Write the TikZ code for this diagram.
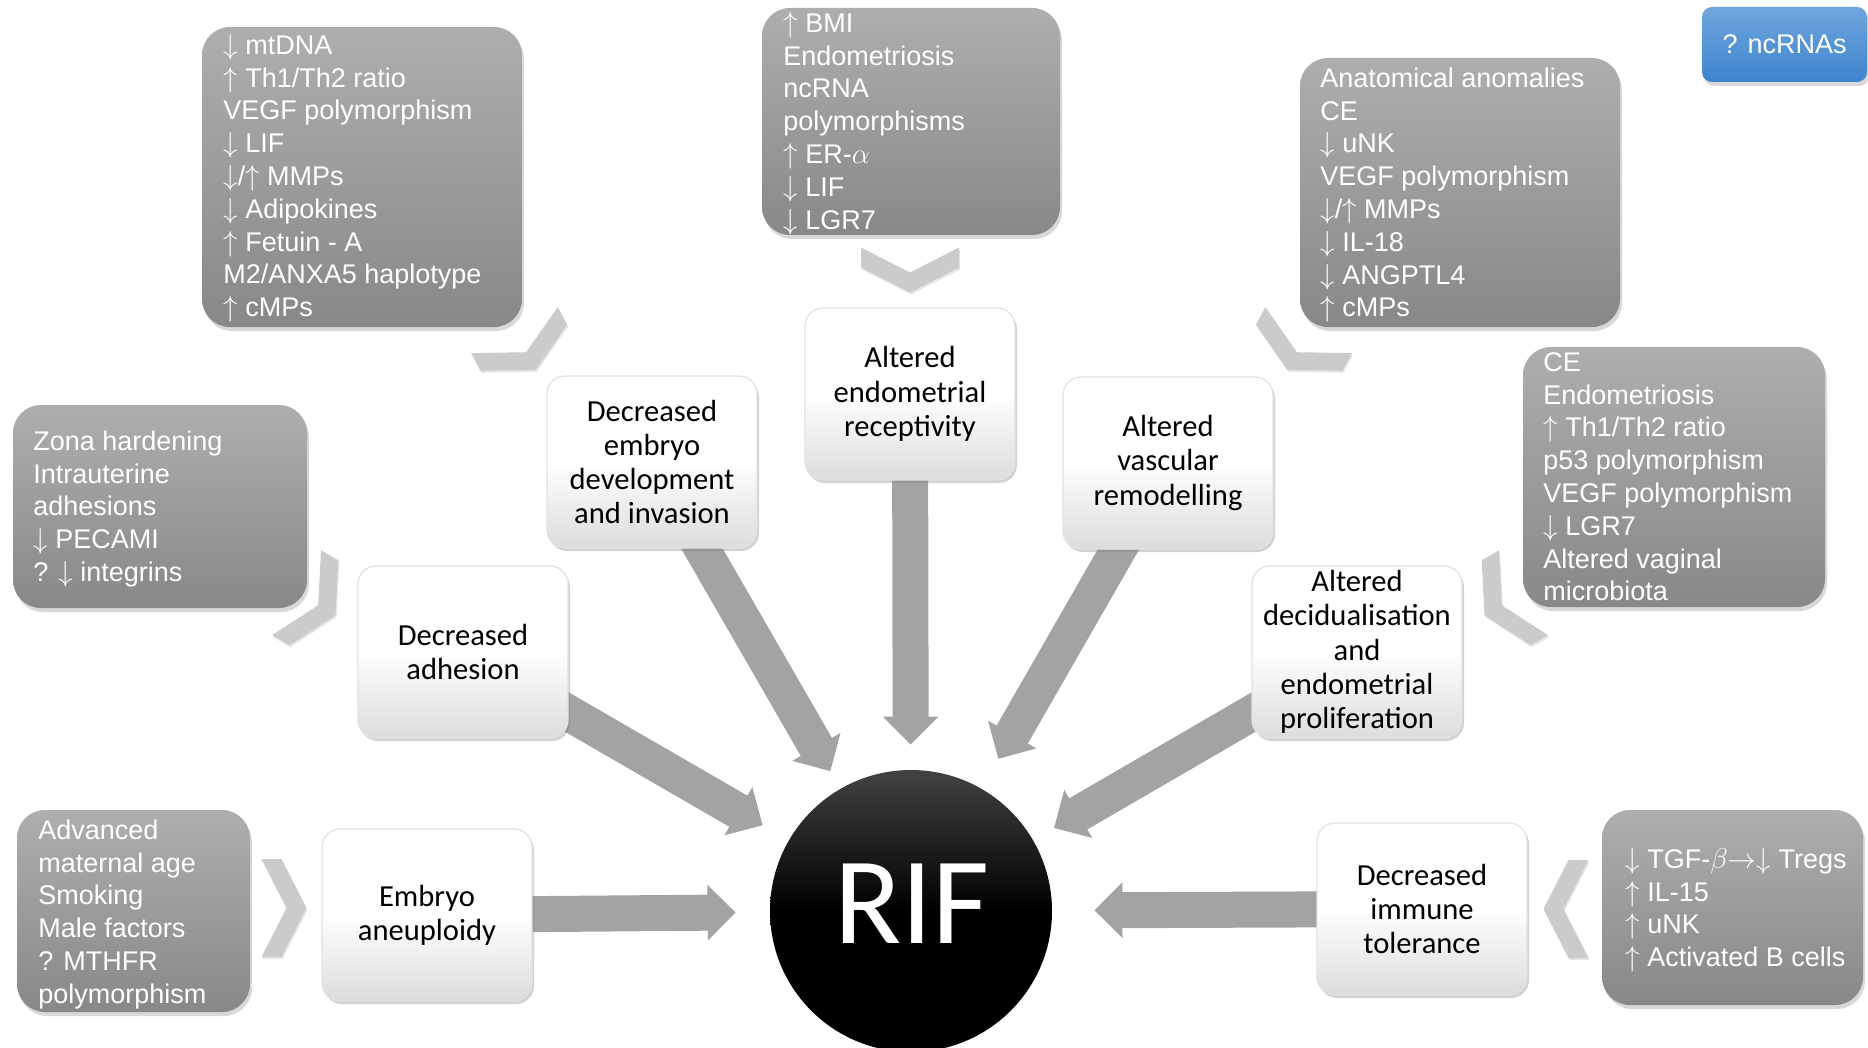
\documentclass[tikz,border=0pt]{standalone}
\usepackage{fontspec}
\usetikzlibrary{arrows.meta,shadows}
\newfontfamily\arialf{Liberation Sans}
\newfontfamily\calf{Carlito}
\definecolor{gtop}{RGB}{174,174,174}
\definecolor{gbot}{RGB}{136,136,136}
\definecolor{arrowgray}{RGB}{163,163,163}
\definecolor{chevgray}{RGB}{203,203,203}
\definecolor{wbot}{RGB}{220,220,220}
\definecolor{wborder}{RGB}{226,226,226}
\definecolor{btop}{RGB}{112,166,221}
\definecolor{bbot}{RGB}{62,132,207}
\pgfdeclarelayer{bg}
\pgfdeclarelayer{paper}
\pgfsetlayers{paper,bg,main}
\newcommand\dn{$\downarrow$}
\newcommand\up{$\uparrow$}
\tikzset{
  graybox/.style={rounded corners=14pt, top color=gtop, bottom color=gbot, draw=none, inner sep=0pt,
    drop shadow={shadow xshift=1pt, shadow yshift=-2pt, opacity=0.3}},
  graytext/.style={text=white, font=\arialf\fontsize{13.5}{16.4}\selectfont, align=left, inner sep=0pt, anchor=north west},
  whitebox/.style={rounded corners=9pt, top color=white, bottom color=wbot, middle color=white,
    draw=wborder, line width=0.6pt, minimum width=105pt, minimum height=86pt, inner sep=0pt,
    align=center, font=\calf\fontsize{15.3}{17.1}\selectfont, text=black,
    drop shadow={shadow xshift=1pt, shadow yshift=-1.5pt, opacity=0.35}},
  bigarrow/.style={draw=arrowgray, line width=18pt, -{Triangle[length=14pt,width=27pt]}},
  chevshape/.style={fill=chevgray, drop shadow={shadow xshift=0.5pt, shadow yshift=-1pt, opacity=0.2}},
}
\newcommand\mychev[3]{\begin{scope}[shift={(#1,#2)},rotate=#3]
  \fill[chevshape] (-22.5,49) -- (-2.5,49) -- (22.5,0) -- (-2.5,-49) -- (-22.5,-49) -- (2.5,0) -- cycle;
\end{scope}}
\begin{document}
\begin{tikzpicture}[x=0.5pt,y=-0.5pt]
\begin{pgfonlayer}{paper}
\fill[white] (0,0) rectangle (1868,1048);
\end{pgfonlayer}
\useasboundingbox (0,0) rectangle (1868,1048);

% gray factor boxes
\node[graybox, minimum width=160pt, minimum height=150pt] (g1) at (362,177) {};
\node[graytext] (g1t) at (223,31) {\strut\dn{} mtDNA\\ \up{} Th1/Th2 ratio\\ VEGF polymorphism\\ \dn{} LIF\\ \dn/\up{} MMPs\\ \dn{} Adipokines\\ \up{} Fetuin - A\\ M2/ANXA5 haplotype\\ \up{} cMPs};

\node[graybox, minimum width=149pt, minimum height=113.5pt] (g2) at (911,121.5) {};
\node[graytext] (g2t) at (783,9) {\strut\up{} BMI\\ Endometriosis\\ ncRNA\\ polymorphisms\\ \up{} ER-$\alpha$\\ \dn{} LIF\\ \dn{} LGR7};

\node[graybox, minimum width=160pt, minimum height=134.5pt] (g3) at (1460,192.5) {};
\node[graytext] (g3t) at (1320,64) {\strut Anatomical anomalies\\ CE\\ \dn{} uNK\\ VEGF polymorphism\\ \dn/\up{} MMPs\\ \dn{} IL-18\\ \dn{} ANGPTL4\\ \up{} cMPs};

\node[graybox, minimum width=151pt, minimum height=130pt] (g4) at (1674,477) {};
\node[graytext] (g4t) at (1543,348) {\strut CE\\ Endometriosis\\ \up{} Th1/Th2 ratio\\ p53 polymorphism\\ VEGF polymorphism\\ \dn{} LGR7\\ Altered vaginal\\ microbiota};

\node[graybox, minimum width=130.5pt, minimum height=97.5pt] (g5) at (1732.5,907.5) {};
\node[graytext] (g5t) at (1625,845) {\strut\dn{} TGF-$\beta{\rightarrow}{\downarrow}$ Tregs\\ \up{} IL-15\\ \up{} uNK\\ \up{} Activated B cells};

\node[graybox, minimum width=147pt, minimum height=101.5pt] (g6) at (160,506.5) {};
\node[graytext] (g6t) at (33,427) {\strut Zona hardening\\ Intrauterine\\ adhesions\\ \dn{} PECAMI\\ ? \dn{} integrins};

\node[graybox, minimum width=116.5pt, minimum height=101pt] (g7) at (133.5,911) {};
\node[graytext] (g7t) at (38,816) {\strut Advanced\\ maternal age\\ Smoking\\ Male factors\\ ? MTHFR\\ polymorphism};

\node[rounded corners=5pt, top color=btop, bottom color=bbot, minimum width=82.5pt, minimum height=37.5pt,
  inner sep=0pt, text=white, font=\arialf\fontsize{13.5}{16}\selectfont,
  drop shadow={shadow xshift=1pt, shadow yshift=-2pt, opacity=0.3}] (nc) at (1784.5,44.5) {? ncRNAs\hspace{7pt}};

% chevrons
\mychev{910}{270}{-90}
\mychev{525}{350}{-62}
\mychev{1298}{350}{-118}
\mychev{1504}{604}{-150}
\mychev{316}{604}{-30}
\mychev{284}{908}{0}
\mychev{1566}{909}{180}

% mechanism boxes
\node[whitebox] (w1) at (910,394) {Altered\\ endometrial\\ receptivity};
\node[whitebox] (w2) at (652,462) {Decreased\\ embryo\\ development\\ and invasion};
\node[whitebox] (w3) at (1168,463) {Altered\\ vascular\\ remodelling};
\node[whitebox] (w4) at (463,652) {Decreased\\ adhesion};
\node[whitebox] (w5) at (1357,652) {Altered\\ decidualisation\\ and\\ endometrial\\ proliferation};
\node[whitebox] (w6) at (427,915) {Embryo\\ aneuploidy};
\node[whitebox] (w7) at (1422,909) {Decreased\\ immune\\ tolerance};

% RIF
\node[circle, minimum size=141pt, inner sep=0pt, top color=black!74, bottom color=black, middle color=black] (rif) at (911,911) {};
\node[font=\calf\fontsize{62}{62}\selectfont, text=white, inner sep=0pt] (riftext) at (912,904) {RIF};

% arrows
\begin{pgfonlayer}{bg}
\draw[bigarrow, shorten >=12.5pt] (w1.center) -- (rif);
\draw[bigarrow, shorten >=10pt] (w2.center) -- (rif);
\draw[bigarrow, shorten >=17pt] (w3.center) -- (rif);
\draw[bigarrow, shorten >=15pt] (w4.center) -- (rif);
\draw[bigarrow, shorten >=12pt] (w5.center) -- (rif);
\draw[bigarrow, shorten >=17pt] (w6.center) -- (rif);
\draw[bigarrow, shorten >=21pt] (w7.center) -- (rif);
\end{pgfonlayer}
\end{tikzpicture}
\end{document}
